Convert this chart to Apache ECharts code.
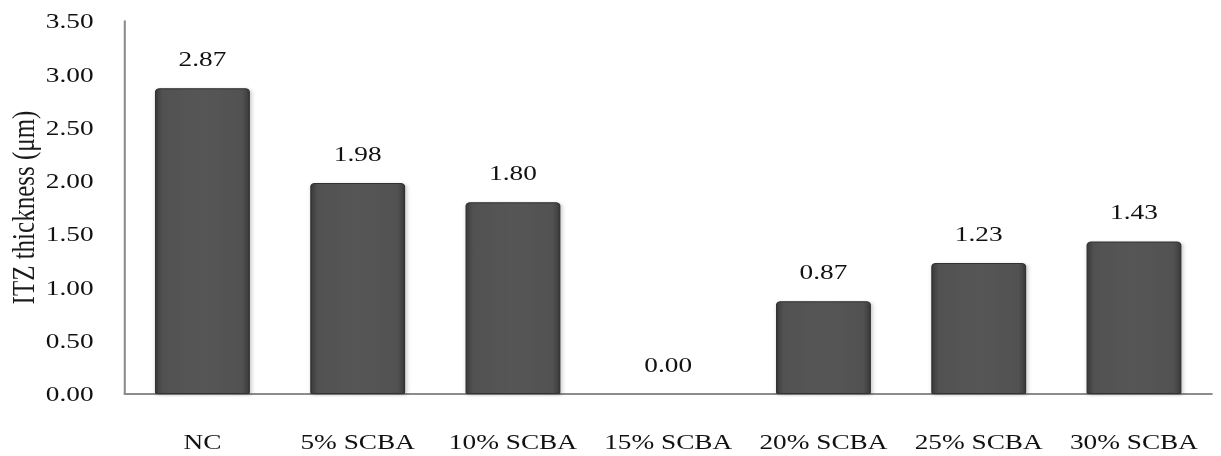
<!DOCTYPE html>
<html>
<head>
<meta charset="utf-8">
<script src="https://cdn.jsdelivr.net/npm/echarts@6/dist/echarts.min.js"></script>
<style>
  html, body { margin: 0; padding: 0; background: #fff; overflow: hidden; }
  /* the figure is laid out narrow and widened 1.3x, as in the published figure */
  #chart { width: 939px; height: 456px; transform: scaleX(1.3); transform-origin: 0 0; }
</style>
</head>
<body>
<div id="chart"></div>
<script>
// ITZ thickness per mix
const categories = ['NC', '5% SCBA', '10% SCBA', '15% SCBA', '20% SCBA', '25% SCBA', '30% SCBA'];
const thickness = [2.87, 1.98, 1.80, 0.00, 0.87, 1.23, 1.43];
const yTicks = ['0.00', '0.50', '1.00', '1.50', '2.00', '2.50', '3.00', '3.50'];

const font = 'Liberation Serif, Times New Roman, serif';

const chart = echarts.init(document.getElementById('chart'), null, { renderer: 'svg' });

const barFill = {
  type: 'linear', x: 0, y: 0, x2: 1, y2: 0,
  colorStops: [
    { offset: 0, color: '#3a3a3a' },
    { offset: 0.07, color: '#515151' },
    { offset: 0.5, color: '#565656' },
    { offset: 0.93, color: '#515151' },
    { offset: 1, color: '#3a3a3a' }
  ]
};

chart.setOption({
  backgroundColor: '#ffffff',
  animation: false,
  grid: { left: 96, right: 7, top: 21, bottom: 62, containLabel: false, outerBoundsMode: 'none' },
  xAxis: {
    type: 'category',
    data: categories,
    axisLine: { show: true, lineStyle: { color: '#8c8c8c', width: 2 } },
    axisTick: { show: false },
    axisLabel: { color: '#111', fontFamily: font, fontSize: 21, margin: 37, interval: 0, hideOverlap: false }
  },
  yAxis: {
    type: 'value',
    min: 0,
    max: 3.5,
    interval: 0.5,
    name: 'ITZ thickness (μm)',
    nameLocation: 'middle',
    nameGap: 66,
    nameRotate: 90,
    nameMoveOverlap: false,
    nameTextStyle: { color: '#1a1a1a', fontFamily: font, fontSize: 25 },
    axisLine: { show: true, lineStyle: { color: '#8c8c8c', width: 1.6 } },
    axisTick: { show: false },
    splitLine: { show: false },
    axisLabel: {
      color: '#111', fontFamily: font, fontSize: 21, margin: 24,
      formatter: v => yTicks[Math.round(v / 0.5)]
    }
  },
  series: [{
    type: 'bar',
    data: thickness.map(v => ({
      value: v,
      itemStyle: v === 0 ? { borderWidth: 0, shadowBlur: 0, color: 'rgba(0,0,0,0)' } : {}
    })),
    barWidth: 73,
    itemStyle: {
      color: barFill,
      borderColor: '#333',
      borderWidth: 1,
      borderRadius: [3, 3, 1, 1],
      shadowColor: 'rgba(0,0,0,0.25)',
      shadowBlur: 3,
      shadowOffsetX: 1,
      shadowOffsetY: 1
    },
    label: {
      show: true,
      position: 'top',
      distance: 19,
      color: '#111',
      fontFamily: font,
      fontSize: 21,
      formatter: p => p.value.toFixed(2)
    }
  }]
});
</script>
</body>
</html>
